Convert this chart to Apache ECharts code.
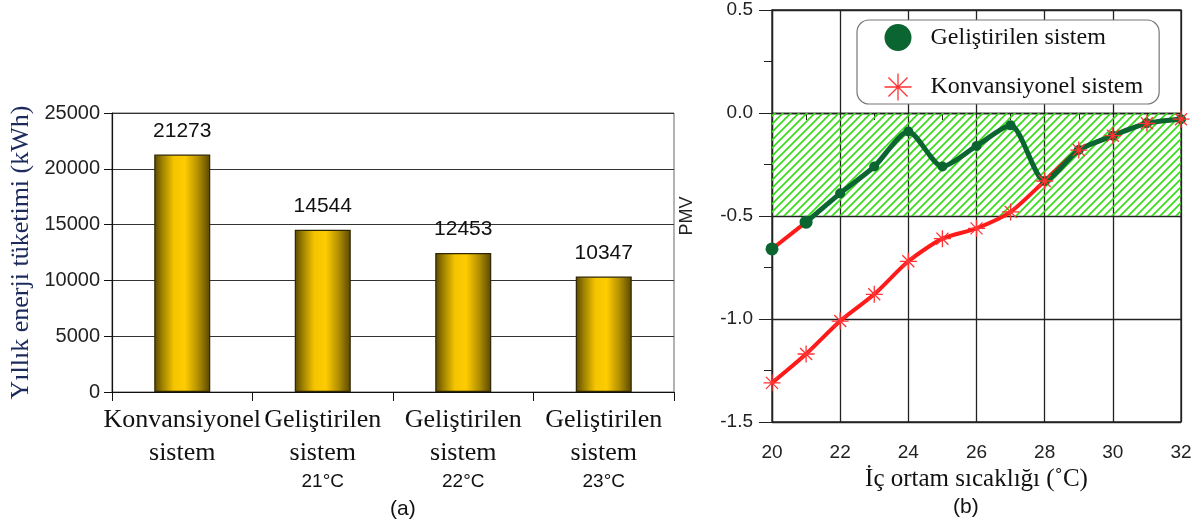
<!DOCTYPE html>
<html>
<head>
<meta charset="utf-8">
<script src="https://cdn.jsdelivr.net/npm/echarts@6/dist/echarts.min.js"></script>
<style>
  html, body { margin: 0; padding: 0; background: #fff; }
  #main { width: 1201px; height: 529px; }
</style>
</head>
<body>
<div id="main"></div>
<script>
// (a) yillik enerji tuketimi
var sistemler = ['Konvansiyonel\nsistem', 'Geliştirilen\nsistem\n21°C', 'Geliştirilen\nsistem\n22°C', 'Geliştirilen\nsistem\n23°C'];
var enerji = [21273, 14544, 12453, 10347];
// (b) PMV
var sicaklik = [20, 21, 22, 23, 24, 25, 26, 27, 28, 29, 30, 31, 32];
var gelistirilen = [-0.66, -0.53, -0.39, -0.26, -0.09, -0.26, -0.16, -0.06, -0.33, -0.18, -0.11, -0.05, -0.03];
var konvansiyonel = [-1.31, -1.17, -1.01, -0.88, -0.72, -0.61, -0.56, -0.48, -0.33, -0.18, -0.11, -0.05, -0.03];
var konforBandi = [0, -0.5];

(function () {
  var SERIF = '"Liberation Serif", "Times New Roman", serif';
  var SANS = '"Liberation Sans", Arial, sans-serif';
  var STAR = 'path://M0,-10L0,10M-10,0L10,0M-7.07,-7.07L7.07,7.07M-7.07,7.07L7.07,-7.07';

  function pairs(xs, ys) {
    return xs.map(function (x, i) { return [x, ys[i]]; });
  }

  //taralı alan deseni
  var hatch = document.createElement('canvas');
  hatch.width = 8; hatch.height = 8;
  var ctx = hatch.getContext('2d');
  ctx.strokeStyle = '#33dd11';
  ctx.lineWidth = 1.6;
  ctx.beginPath();
  ctx.moveTo(0, 8); ctx.lineTo(8, 0);
  ctx.moveTo(-1, 1); ctx.lineTo(1, -1);
  ctx.moveTo(7, 9); ctx.lineTo(9, 7);
  ctx.stroke();

  var barGrad = new echarts.graphic.LinearGradient(0, 0, 1, 0, [
    { offset: 0, color: '#5a4800' },
    { offset: 0.15, color: '#a08300' },
    { offset: 0.35, color: '#f5c400' },
    { offset: 0.55, color: '#ffcc00' },
    { offset: 0.78, color: '#b39000' },
    { offset: 1, color: '#584600' }
  ]);

  var myChart = echarts.init(document.getElementById('main'));
  var option = {
    animation: false,
    grid: [
      { left: 112, right: 527, top: 113, bottom: 137, show: true, borderColor: '#666', borderWidth: 1 },
      { left: 772, right: 20, top: 10, bottom: 107, show: true, borderColor: '#222', borderWidth: 1.3 }
    ],
    legend: {
      orient: 'vertical',
      left: 857, top: 20,
      padding: [4, 16, 1, 25],
      borderColor: '#777', borderWidth: 1.2, borderRadius: 12,
      backgroundColor: '#fff',
      itemWidth: 27, itemHeight: 27, itemGap: 20,
      textStyle: { fontFamily: SERIF, fontSize: 24, color: '#111', padding: [0, 0, 0, 14] },
      data: [
        { name: 'Geliştirilen sistem', icon: 'circle', itemStyle: { color: '#0b6531' } },
        { name: 'Konvansiyonel sistem', icon: STAR, itemStyle: { color: 'none', borderColor: '#ff3333', borderWidth: 1.3 } }
      ]
    },
    xAxis: [
      {
        gridIndex: 0, type: 'category', data: sistemler,
        axisLine: { lineStyle: { color: '#111', width: 1.2 } },
        axisTick: { show: true, length: 9, lineStyle: { color: '#111' } },
        axisLabel: {
          interval: 0, margin: 12,
          formatter: function (v) {
            return v.split('\n').map(function (s) {
              return s.indexOf('°C') >= 0 ? '{b|' + s + '}' : '{a|' + s + '}';
            }).join('\n');
          },
          rich: {
            a: { fontFamily: SERIF, fontSize: 26, color: '#111', lineHeight: 33 },
            b: { fontFamily: SANS, fontSize: 19, color: '#111', lineHeight: 23 }
          }
        }
      },
      {
        gridIndex: 1, type: 'value', min: 20, max: 32, interval: 2,
        name: 'İç ortam sıcaklığı (˚C)', nameLocation: 'middle', nameGap: 44,
        nameTextStyle: { fontFamily: SERIF, fontSize: 25, color: '#111' },
        axisLine: { lineStyle: { color: '#222', width: 1.3 } },
        axisTick: { length: 11, lineStyle: { color: '#222' } },
        minorTick: { show: true, splitNumber: 2, length: 7, lineStyle: { color: '#222' } },
        splitLine: { show: true, lineStyle: { color: '#222', width: 1.3 } },
        axisLabel: { fontFamily: SANS, fontSize: 19, color: '#222', margin: 21 }
      }
    ],
    yAxis: [
      {
        gridIndex: 0, type: 'value', min: 0, max: 25000, interval: 5000,
        name: 'Yıllık enerji tüketimi (kWh)', nameLocation: 'middle', nameGap: 78,
        nameTextStyle: { fontFamily: SERIF, fontSize: 26, color: '#1c2a5c' },
        axisLine: { show: true, lineStyle: { color: '#111', width: 1.2 } },
        axisTick: { show: true, length: 8, lineStyle: { color: '#111' } },
        splitLine: { lineStyle: { color: '#333', width: 1.2 } },
        axisLabel: {
          fontFamily: SANS, fontSize: 20, color: '#222', margin: 12,
          formatter: function (v) { return String(v); }
        }
      },
      {
        gridIndex: 1, type: 'value', min: -1.5, max: 0.5, interval: 0.5,
        name: 'PMV', nameLocation: 'middle', nameGap: 76,
        nameTextStyle: { fontFamily: SANS, fontSize: 18, color: '#222' },
        axisLine: { show: true, lineStyle: { color: '#222', width: 1.3 } },
        axisTick: { show: true, length: 13, lineStyle: { color: '#222' } },
        minorTick: { show: true, splitNumber: 2, length: 8, lineStyle: { color: '#222' } },
        splitLine: { lineStyle: { color: '#222', width: 1.3 } },
        axisLabel: {
          fontFamily: SANS, fontSize: 19, color: '#222', margin: 19,
          formatter: function (v) { return v.toFixed(1); }
        }
      }
    ],
    graphic: [
      { type: 'text', left: 390, top: 499, style: { text: '(a)', font: '21px "Liberation Sans"', fill: '#111' } },
      { type: 'text', left: 953, top: 497, style: { text: '(b)', font: '21px "Liberation Sans"', fill: '#111' } }
    ],
    series: [
      {
        name: 'enerji', type: 'bar', xAxisIndex: 0, yAxisIndex: 0,
        data: enerji, barWidth: 56,
        itemStyle: { color: barGrad, borderColor: '#2e2600', borderWidth: 1.2 },
        label: { show: true, position: 'top', distance: 13, fontFamily: SANS, fontSize: 21, color: '#111' }
      },
      {
        name: 'bant', type: 'line', xAxisIndex: 1, yAxisIndex: 1, data: [], z: 1,
        markArea: {
          silent: true,
          itemStyle: { color: { image: hatch, repeat: 'repeat' } },
          data: [[{ yAxis: konforBandi[0] }, { yAxis: konforBandi[1] }]]
        }
      },
      {
        name: 'k-cizgi', type: 'line', xAxisIndex: 1, yAxisIndex: 1, z: 2,
        data: pairs(sicaklik, konvansiyonel), smooth: 0.25, showSymbol: false,
        lineStyle: { color: '#ff1a1a', width: 4 }
      },
      {
        name: 'k-baslangic', type: 'line', xAxisIndex: 1, yAxisIndex: 1, z: 2,
        data: pairs(sicaklik.slice(0, 2), gelistirilen.slice(0, 2)), showSymbol: false,
        lineStyle: { color: '#ff1a1a', width: 4 }
      },
      {
        name: 'g-cizgi', type: 'line', xAxisIndex: 1, yAxisIndex: 1, z: 3,
        data: pairs(sicaklik.slice(1), gelistirilen.slice(1)), smooth: 0.25, showSymbol: false,
        lineStyle: { color: '#0b6531', width: 5 }
      },
      {
        name: 'Geliştirilen sistem', type: 'scatter', xAxisIndex: 1, yAxisIndex: 1, z: 4,
        data: pairs(sicaklik, gelistirilen), symbol: 'circle',
        symbolSize: function (v, p) { return p.dataIndex < 2 ? 13 : 10; },
        itemStyle: { color: '#0b6531', opacity: 1 }
      },
      {
        name: 'Konvansiyonel sistem', type: 'scatter', xAxisIndex: 1, yAxisIndex: 1, z: 5,
        data: pairs(sicaklik, konvansiyonel), symbol: STAR, symbolSize: 17,
        itemStyle: { color: 'none', borderColor: '#ff3333', borderWidth: 1.3, opacity: 1 }
      }
    ]
  };
  myChart.setOption(option);
  window.addEventListener('resize', function () {
    myChart.resize();
  });
})();
</script>
</body>
</html>
